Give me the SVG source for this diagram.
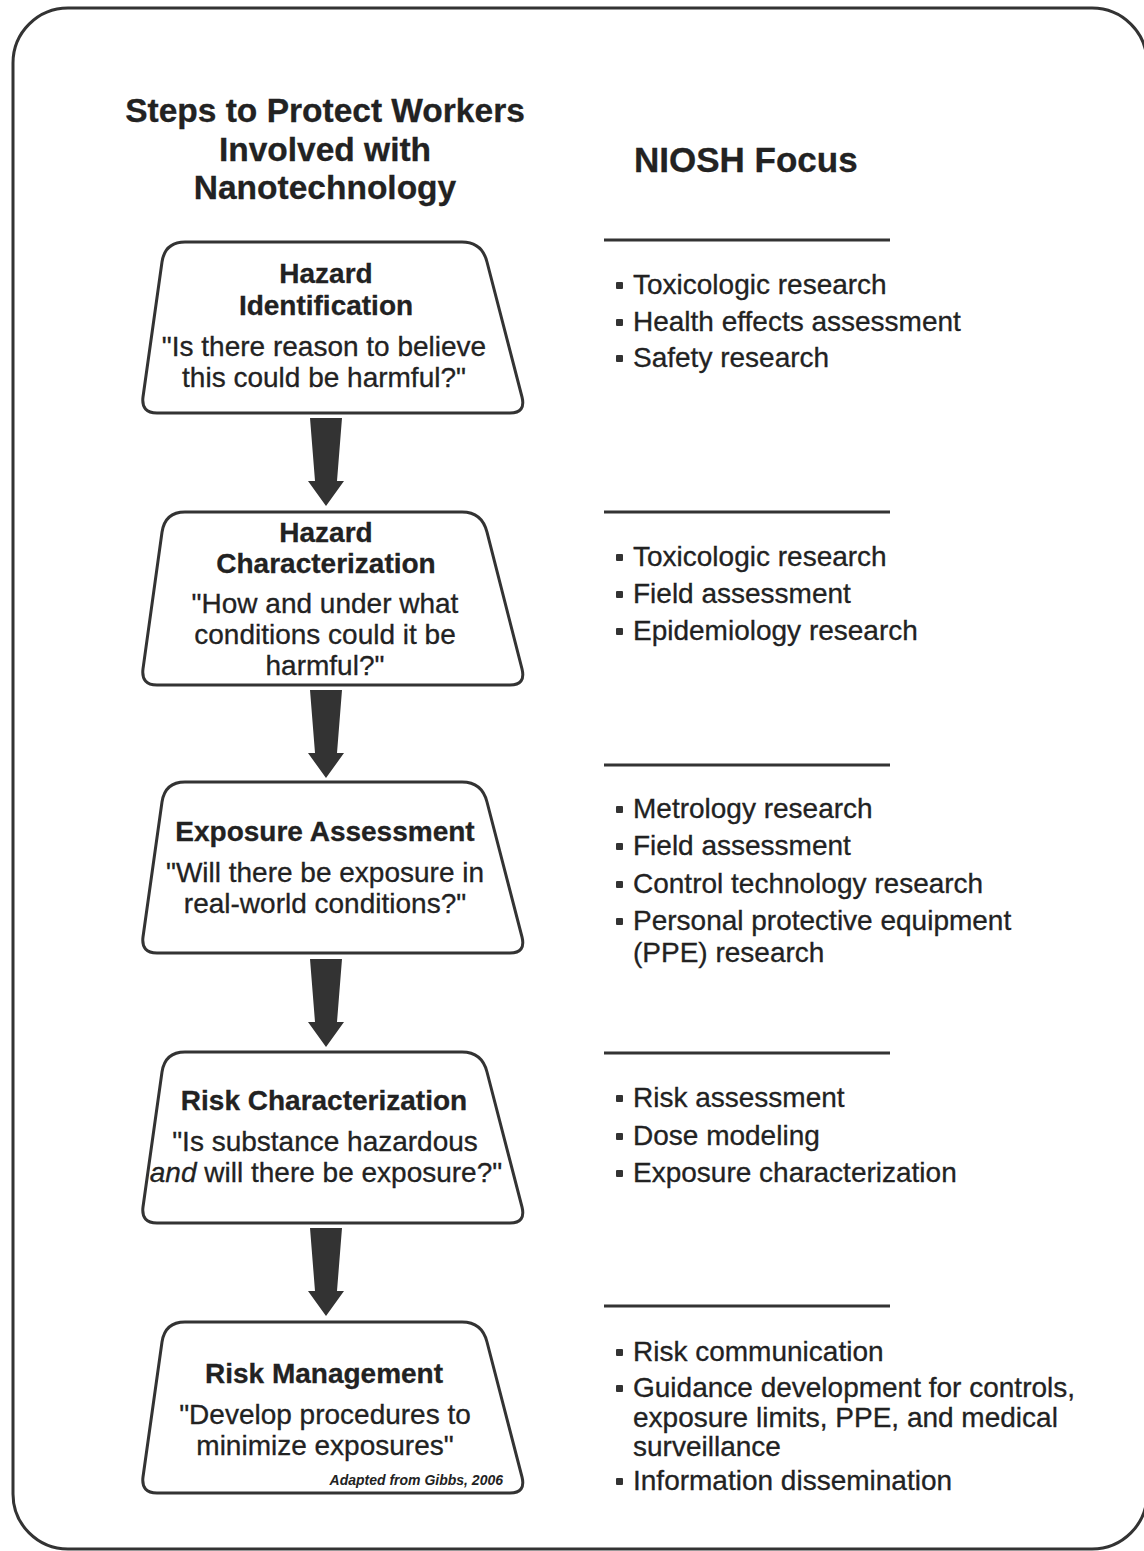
<svg xmlns="http://www.w3.org/2000/svg" xmlns:xlink="http://www.w3.org/1999/xlink" width="1144" height="1551" viewBox="0 0 1144 1551">
<style>
  text { font-family: "Liberation Sans", Arial, sans-serif; fill: #222; stroke: #222; stroke-width: 0.3px; }
  .h { font-size: 33.5px; font-weight: bold; text-anchor: middle; }
  .niosh { font-size: 35px; font-weight: bold; }
  .t { font-size: 28px; font-weight: bold; text-anchor: middle; }
  .q { font-size: 28px; text-anchor: middle; }
  .b { font-size: 28px; }
  .credit { font-size: 14px; font-weight: bold; font-style: italic; text-anchor: end; stroke-width: 0; }
  .shape { fill: #fff; stroke: #333; stroke-width: 3; stroke-linejoin: round; }
  .rule { stroke: #333; stroke-width: 3; }
  .bul { fill: #333; }
  .arrow { fill: #333; }
</style>
<defs>
  <path id="trap" d="M185,0 H462 Q482,0 487,20 L522,155 Q526,171 510,171 H157 Q141,171 143,155 L162,20 Q165,0 185,0 Z"/>
  <path id="arr" d="M310,0 L342,0 L337,63 L344,63 L326,88 L308,63 L315,63 Z"/>
</defs>
<rect x="0" y="0" width="1144" height="1551" fill="#fff"/>
<rect x="13" y="8" width="1134" height="1541" rx="55" ry="55" fill="none" stroke="#333" stroke-width="3"/>

<g id="heading">
  <text class="h" x="325" y="122">Steps to Protect Workers</text>
  <text class="h" x="325" y="161">Involved with</text>
  <text class="h" x="325" y="199">Nanotechnology</text>
  <text class="niosh" x="634" y="172">NIOSH Focus</text>
</g>

<g id="connectors">
  <use xlink:href="#arr" href="#arr" class="arrow" transform="translate(0,418)"/>
  <use xlink:href="#arr" href="#arr" class="arrow" transform="translate(0,690)"/>
  <use xlink:href="#arr" href="#arr" class="arrow" transform="translate(0,959)"/>
  <use xlink:href="#arr" href="#arr" class="arrow" transform="translate(0,1228)"/>
</g>

<g id="node-hazard-identification">
  <use xlink:href="#trap" href="#trap" class="shape" transform="translate(0,242)"/>
  <text class="t" x="326" y="283">Hazard</text>
  <text class="t" x="326" y="315">Identification</text>
  <text class="q" x="324" y="356">"Is there reason to believe</text>
  <text class="q" x="324" y="387">this could be harmful?"</text>
</g>

<g id="node-hazard-characterization">
  <use xlink:href="#trap" href="#trap" class="shape" transform="translate(0,512) scale(1,1.012)"/>
  <text class="t" x="326" y="542">Hazard</text>
  <text class="t" x="326" y="573">Characterization</text>
  <text class="q" x="325" y="613">"How and under what</text>
  <text class="q" x="325" y="644">conditions could it be</text>
  <text class="q" x="325" y="675">harmful?"</text>
</g>

<g id="node-exposure-assessment">
  <use xlink:href="#trap" href="#trap" class="shape" transform="translate(0,782)"/>
  <text class="t" x="325" y="841">Exposure Assessment</text>
  <text class="q" x="325" y="882">"Will there be exposure in</text>
  <text class="q" x="325" y="913">real-world conditions?"</text>
</g>

<g id="node-risk-characterization">
  <use xlink:href="#trap" href="#trap" class="shape" transform="translate(0,1052)"/>
  <text class="t" x="324" y="1110">Risk Characterization</text>
  <text class="q" x="325" y="1151">"Is substance hazardous</text>
  <text class="q" x="326" y="1182"><tspan font-style="italic">and</tspan> will there be exposure?"</text>
</g>

<g id="node-risk-management">
  <use xlink:href="#trap" href="#trap" class="shape" transform="translate(0,1322)"/>
  <text class="t" x="324" y="1383">Risk Management</text>
  <text class="q" x="325" y="1424">"Develop procedures to</text>
  <text class="q" x="325" y="1455">minimize exposures"</text>
  <text class="credit" x="503" y="1485">Adapted from Gibbs, 2006</text>
</g>

<g id="focus-1">
  <line class="rule" x1="604" y1="240" x2="890" y2="240"/>
  <rect class="bul" x="616" y="282" width="7" height="7" rx="1"/>
  <text class="b" x="633" y="294">Toxicologic research</text>
  <rect class="bul" x="616" y="319" width="7" height="7" rx="1"/>
  <text class="b" x="633" y="331">Health effects assessment</text>
  <rect class="bul" x="616" y="355" width="7" height="7" rx="1"/>
  <text class="b" x="633" y="367">Safety research</text>
</g>

<g id="focus-2">
  <line class="rule" x1="604" y1="512" x2="890" y2="512"/>
  <rect class="bul" x="616" y="554" width="7" height="7" rx="1"/>
  <text class="b" x="633" y="566">Toxicologic research</text>
  <rect class="bul" x="616" y="591" width="7" height="7" rx="1"/>
  <text class="b" x="633" y="603">Field assessment</text>
  <rect class="bul" x="616" y="628" width="7" height="7" rx="1"/>
  <text class="b" x="633" y="640">Epidemiology research</text>
</g>

<g id="focus-3">
  <line class="rule" x1="604" y1="765" x2="890" y2="765"/>
  <rect class="bul" x="616" y="806" width="7" height="7" rx="1"/>
  <text class="b" x="633" y="818">Metrology research</text>
  <rect class="bul" x="616" y="843" width="7" height="7" rx="1"/>
  <text class="b" x="633" y="855">Field assessment</text>
  <rect class="bul" x="616" y="881" width="7" height="7" rx="1"/>
  <text class="b" x="633" y="893">Control technology research</text>
  <rect class="bul" x="616" y="918" width="7" height="7" rx="1"/>
  <text class="b" x="633" y="930">Personal protective equipment</text>
  <text class="b" x="633" y="962">(PPE) research</text>
</g>

<g id="focus-4">
  <line class="rule" x1="604" y1="1053" x2="890" y2="1053"/>
  <rect class="bul" x="616" y="1095" width="7" height="7" rx="1"/>
  <text class="b" x="633" y="1107">Risk assessment</text>
  <rect class="bul" x="616" y="1133" width="7" height="7" rx="1"/>
  <text class="b" x="633" y="1145">Dose modeling</text>
  <rect class="bul" x="616" y="1170" width="7" height="7" rx="1"/>
  <text class="b" x="633" y="1182">Exposure characterization</text>
</g>

<g id="focus-5">
  <line class="rule" x1="604" y1="1306" x2="890" y2="1306"/>
  <rect class="bul" x="616" y="1349" width="7" height="7" rx="1"/>
  <text class="b" x="633" y="1361">Risk communication</text>
  <rect class="bul" x="616" y="1385" width="7" height="7" rx="1"/>
  <text class="b" x="633" y="1397">Guidance development for controls,</text>
  <text class="b" x="633" y="1427">exposure limits, PPE, and medical</text>
  <text class="b" x="633" y="1456">surveillance</text>
  <rect class="bul" x="616" y="1478" width="7" height="7" rx="1"/>
  <text class="b" x="633" y="1490">Information dissemination</text>
</g>
</svg>
